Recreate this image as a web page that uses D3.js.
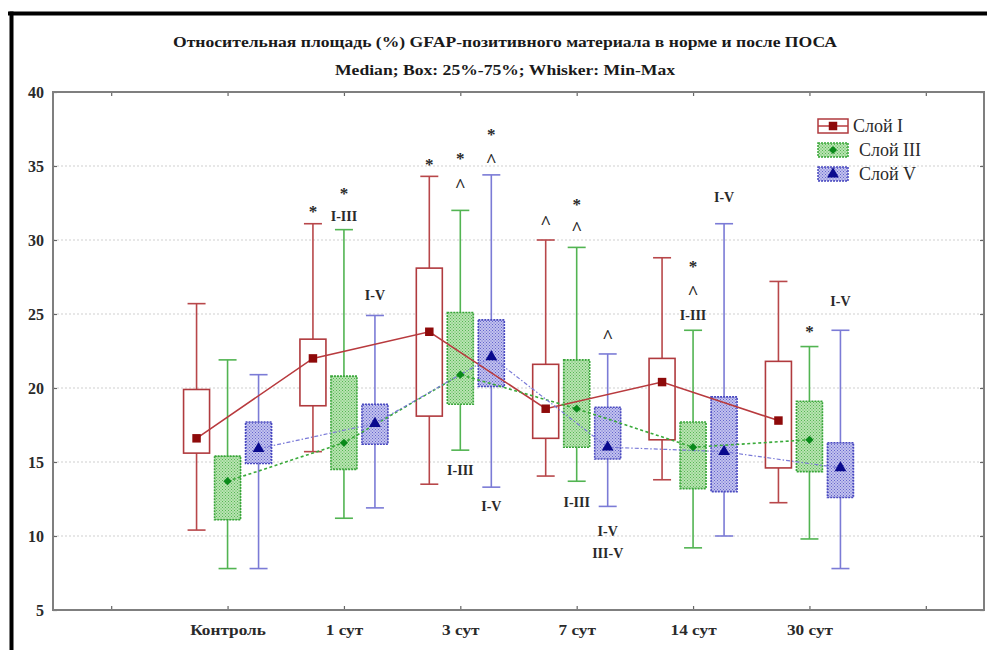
<!DOCTYPE html>
<html>
<head>
<meta charset="utf-8">
<script src="https://cdn.jsdelivr.net/npm/d3@7"></script>
<style>
  html, body { margin: 0; padding: 0; background: #fff; }
  svg { display: block; }
</style>
</head>
<body>
<svg id="chart" width="987" height="650"></svg>
<script>
// ---------------- DATA ----------------
const titleText = "Относительная площадь (%) GFAP-позитивного материала в норме и после ПОСА";
const subtitleText = "Median; Box: 25%-75%; Whisker: Min-Max";
const categories = ["Контроль", "1 сут", "3 сут", "7 сут", "14 сут", "30 сут"];
const tickLabels = ["", "Контроль", "1 сут", "3 сут", "7 сут", "14 сут", "30 сут", ""];
const yTicks = [5, 10, 15, 20, 25, 30, 35, 40];
const seriesNames = ["Слой I", "Слой III", "Слой V"];

// Слой I
const minI  = [10.4, 15.7, 13.5, 14.05, 13.8, 12.25];
const q1I   = [15.6, 18.8, 18.1, 16.6, 16.5, 14.6];
const medI  = [16.6, 22.0, 23.8, 18.6, 20.4, 17.8];
const q3I   = [19.9, 23.3, 28.1, 21.6, 22.0, 21.8];
const maxI  = [25.7, 31.1, 34.3, 30.0, 28.8, 27.2];
// Слой III
const minIII = [7.8, 11.2, 15.8, 13.7, 9.2, 9.8];
const q1III  = [11.1, 14.5, 18.9, 16.0, 13.2, 14.35];
const medIII = [13.7, 16.3, 20.9, 18.6, 16.0, 16.5];
const q3III  = [15.4, 20.8, 25.1, 21.9, 17.7, 19.1];
const maxIII = [21.9, 30.7, 32.0, 29.5, 23.9, 22.8];
// Слой V
const minV = [7.8, 11.9, 13.3, 12.0, 10.0, 7.8];
const q1V  = [14.9, 16.2, 20.1, 15.2, 13.0, 12.6];
const medV = [15.9, 17.6, 22.1, 16.0, 15.7, 14.6];
const q3V  = [17.7, 18.9, 24.6, 18.7, 19.4, 16.3];
const maxV = [20.9, 24.9, 34.4, 22.3, 31.1, 23.9];

// significance marks: [category, series, label, level (y value)]
const marks = [
  ["1 сут", "Слой I", "*", 32.4],
  ["1 сут", "Слой III", "*", 33.6],
  ["1 сут", "Слой III", "I-III", 31.6],
  ["1 сут", "Слой V", "I-V", 26.3],
  ["3 сут", "Слой I", "*", 35.6],
  ["3 сут", "Слой III", "*", 36.0],
  ["3 сут", "Слой III", "^", 34.05],
  ["3 сут", "Слой V", "*", 37.6],
  ["3 сут", "Слой V", "^", 35.7],
  ["3 сут", "Слой III", "I-III", 14.45],
  ["3 сут", "Слой V", "I-V", 12.0],
  ["7 сут", "Слой I", "^", 31.55],
  ["7 сут", "Слой III", "*", 32.9],
  ["7 сут", "Слой III", "^", 31.15],
  ["7 сут", "Слой V", "^", 23.85],
  ["7 сут", "Слой III", "I-III", 12.3],
  ["7 сут", "Слой V", "I-V", 10.3],
  ["7 сут", "Слой V", "III-V", 8.85],
  ["14 сут", "Слой III", "*", 28.7],
  ["14 сут", "Слой III", "^", 26.8],
  ["14 сут", "Слой III", "I-III", 24.9],
  ["14 сут", "Слой V", "I-V", 32.9],
  ["30 сут", "Слой III", "*", 24.3],
  ["30 сут", "Слой V", "I-V", 25.9]
];

// ---------------- BUILD ----------------
const seriesData = [
  { name: "Слой I", min: minI, q1: q1I, med: medI, q3: q3I, max: maxI },
  { name: "Слой III", min: minIII, q1: q1III, med: medIII, q3: q3III, max: maxIII },
  { name: "Слой V", min: minV, q1: q1V, med: medV, q3: q3V, max: maxV }
];
const style = {
  "Слой I":   { stroke: "#b8474a", box: "#b03a3e", fill: "none", mark: "#8e0a0a", line: "#b83a3e", dash: null, lw: 1.6, sym: d3.symbolSquare, size: 72, rot: 0 },
  "Слой III": { stroke: "#52b452", box: "#3aa63a", fill: "url(#patG)", mark: "#0a8a1a", line: "#3aaa3a", dash: "3,2.5", lw: 1.6, sym: d3.symbolSquare, size: 34, rot: 45 },
  "Слой V":   { stroke: "#7b7bd6", box: "#4a4ac0", fill: "url(#patB)", mark: "#0a0a8e", line: "#7a7ad8", dash: "4,2,1.5,2", lw: 1.2, sym: d3.symbolTriangle, size: 60, rot: 0 }
};

const svg = d3.select("#chart");
const W = 987, H = 650;
const plot = { left: 53, right: 984, top: 92, bottom: 610 };

const defs = svg.append("defs");
function pattern(id, bg, dot) {
  const p = defs.append("pattern").attr("id", id).attr("patternUnits", "userSpaceOnUse")
    .attr("width", 3).attr("height", 3);
  p.append("rect").attr("width", 3).attr("height", 3).attr("fill", bg);
  p.append("rect").attr("x", 0).attr("y", 0).attr("width", 1).attr("height", 1).attr("fill", dot);
  p.append("rect").attr("x", 1.5).attr("y", 1.5).attr("width", 1).attr("height", 1).attr("fill", dot);
}
pattern("patG", "#b9e3b2", "#55b752");
pattern("patB", "#c2c2ee", "#6464cc");

const x = d3.scalePoint().domain(d3.range(tickLabels.length)).range([plot.left, plot.right]).padding(0.5);
const catX = c => x(tickLabels.indexOf(c));
const sub = d3.scalePoint().domain(seriesNames).range([-31, 31]);
const y = d3.scaleLinear().domain([5, 40]).range([plot.bottom, plot.top]);
const boxW = 26, capW = 18;

// outer black frame
svg.append("line").attr("x1", 8).attr("x2", W).attr("y1", 13.5).attr("y2", 13.5)
  .attr("stroke", "#000").attr("stroke-width", 4);
svg.append("line").attr("x1", 11.5).attr("x2", 11.5).attr("y1", 11.5).attr("y2", H)
  .attr("stroke", "#000").attr("stroke-width", 4);

// titles
const serif = "'Liberation Serif', 'Times New Roman', serif";
svg.append("text").attr("x", 505).attr("y", 47).attr("text-anchor", "middle")
  .attr("font-family", serif).attr("font-weight", "bold").attr("font-size", 15)
  .attr("fill", "#1a1a1a").attr("textLength", 664).attr("lengthAdjust", "spacingAndGlyphs")
  .text(titleText);
svg.append("text").attr("x", 505).attr("y", 75).attr("text-anchor", "middle")
  .attr("font-family", serif).attr("font-weight", "bold").attr("font-size", 15)
  .attr("fill", "#1a1a1a").attr("textLength", 340).attr("lengthAdjust", "spacingAndGlyphs")
  .text(subtitleText);

// gridlines
svg.append("g").selectAll("line").data(yTicks.filter(v => v > 5 && v < 40)).join("line")
  .attr("x1", plot.left).attr("x2", plot.right)
  .attr("y1", d => y(d)).attr("y2", d => y(d))
  .attr("stroke", "#cfcfcf").attr("stroke-width", 1).attr("stroke-dasharray", "2,2");

// axes
const axL = svg.append("g").attr("transform", `translate(${plot.left},0)`)
  .call(d3.axisLeft(y).tickValues(yTicks).tickSizeInner(-4).tickSizeOuter(0).tickPadding(9));
const axR = svg.append("g").attr("transform", `translate(${plot.right},0)`)
  .call(d3.axisRight(y).tickValues(yTicks).tickSizeInner(-4).tickSizeOuter(0).tickFormat(""));
const axT = svg.append("g").attr("transform", `translate(0,${plot.top})`)
  .call(d3.axisTop(x).tickSizeInner(-4).tickSizeOuter(0).tickFormat(""));
const axB = svg.append("g").attr("transform", `translate(0,${plot.bottom})`)
  .call(d3.axisBottom(x).tickSizeInner(-4).tickSizeOuter(0).tickPadding(14).tickFormat(i => tickLabels[i]));
[axL, axR, axT, axB].forEach(a => {
  a.select(".domain").remove();
  a.selectAll(".tick line").attr("stroke", "#666").attr("stroke-width", 1.2);
  a.selectAll(".tick text").attr("font-family", serif).attr("font-weight", "bold")
    .attr("font-size", 16).attr("fill", "#2a2a2a");
});
axB.selectAll(".tick text").attr("dy", "0.71em").attr("font-size", 15)
  .attr("transform", "scale(1,1)")
  .each(function () {
    const t = d3.select(this);
    const w = this.getComputedTextLength();
    if (w > 0) t.attr("textLength", w * 1.15).attr("lengthAdjust", "spacingAndGlyphs");
  });

// frame
svg.append("rect").attr("x", plot.left).attr("y", plot.top)
  .attr("width", plot.right - plot.left).attr("height", plot.bottom - plot.top)
  .attr("fill", "none").attr("stroke", "#7f7f7f").attr("stroke-width", 2);

// boxes
const gBox = svg.append("g");
seriesData.forEach(s => {
  const st = style[s.name];
  const rows = categories.map((c, i) => ({ c, min: s.min[i], q1: s.q1[i], med: s.med[i], q3: s.q3[i], max: s.max[i] }));
  const g = gBox.append("g");
  const cx = d => catX(d.c) + sub(s.name);
  g.selectAll(".wh").data(rows).join("line").attr("class", "wh")
    .attr("x1", cx).attr("x2", cx).attr("y1", d => y(d.max)).attr("y2", d => y(d.min))
    .attr("stroke", st.stroke).attr("stroke-width", 1.6);
  g.selectAll(".capT").data(rows).join("line").attr("class", "capT")
    .attr("x1", d => cx(d) - capW / 2).attr("x2", d => cx(d) + capW / 2)
    .attr("y1", d => y(d.max)).attr("y2", d => y(d.max))
    .attr("stroke", st.stroke).attr("stroke-width", 1.6);
  g.selectAll(".capB").data(rows).join("line").attr("class", "capB")
    .attr("x1", d => cx(d) - capW / 2).attr("x2", d => cx(d) + capW / 2)
    .attr("y1", d => y(d.min)).attr("y2", d => y(d.min))
    .attr("stroke", st.stroke).attr("stroke-width", 1.6);
  g.selectAll(".bx").data(rows).join("rect").attr("class", "bx")
    .attr("x", d => cx(d) - boxW / 2).attr("width", boxW)
    .attr("y", d => y(d.q3)).attr("height", d => y(d.q1) - y(d.q3))
    .attr("fill", s.name === "Слой I" ? "#fff" : st.fill)
    .attr("stroke", st.box).attr("stroke-width", 1.6)
    .attr("stroke-dasharray", s.name === "Слой I" ? null : "2,1");
});

// median lines
seriesData.forEach(s => {
  const st = style[s.name];
  const line = d3.line().x((d, i) => catX(categories[i]) + sub(s.name)).y(d => y(d));
  svg.append("path").datum(s.med).attr("d", line).attr("fill", "none")
    .attr("stroke", st.line).attr("stroke-width", st.lw)
    .attr("stroke-dasharray", st.dash);
});
// markers
seriesData.forEach(s => {
  const st = style[s.name];
  svg.append("g").selectAll("path").data(s.med).join("path")
    .attr("transform", (d, i) => `translate(${catX(categories[i]) + sub(s.name)},${y(d)}) rotate(${st.rot})`)
    .attr("d", d3.symbol().type(st.sym).size(st.size))
    .attr("fill", st.mark);
});

// significance marks
svg.append("g").selectAll("text").data(marks).join("text")
  .attr("x", d => catX(d[0]) + sub(d[1]))
  .attr("y", d => y(d[3]))
  .attr("dy", d => d[2] === "*" ? "0.75em" : (d[2] === "^" ? "0.62em" : "0.35em"))
  .attr("text-anchor", "middle")
  .attr("font-family", serif).attr("font-weight", "bold")
  .attr("font-size", d => d[2] === "*" ? 17 : (d[2] === "^" ? 19 : 14))
  .attr("fill", "#2a2a2a")
  .text(d => d[2]);

// legend
const leg = svg.append("g");
const legY = d3.scalePoint().domain(seriesNames).range([126, 174]);
seriesNames.forEach(n => {
  const st = style[n];
  const cy = legY(n);
  const g = leg.append("g");
  g.append("rect").attr("x", 818).attr("y", cy - 7).attr("width", 30).attr("height", 14)
    .attr("fill", n === "Слой I" ? "#fff" : st.fill).attr("stroke", st.box).attr("stroke-width", 1.5)
    .attr("stroke-dasharray", n === "Слой I" ? null : "2,1");
  if (n === "Слой I") {
    g.append("line").attr("x1", 818).attr("x2", 848).attr("y1", cy).attr("y2", cy)
      .attr("stroke", st.line).attr("stroke-width", 1.5);
  }
  g.append("path").attr("transform", `translate(833,${cy}) rotate(${st.rot})`)
    .attr("d", d3.symbol().type(st.sym).size(st.size)).attr("fill", st.mark);
  g.append("text").attr("x", n === "Слой I" ? 853 : 859).attr("y", cy).attr("dy", "0.35em")
    .attr("font-family", serif).attr("font-size", 18).attr("fill", "#2a2a2a")
    .text(n);
});
</script>
</body>
</html>
